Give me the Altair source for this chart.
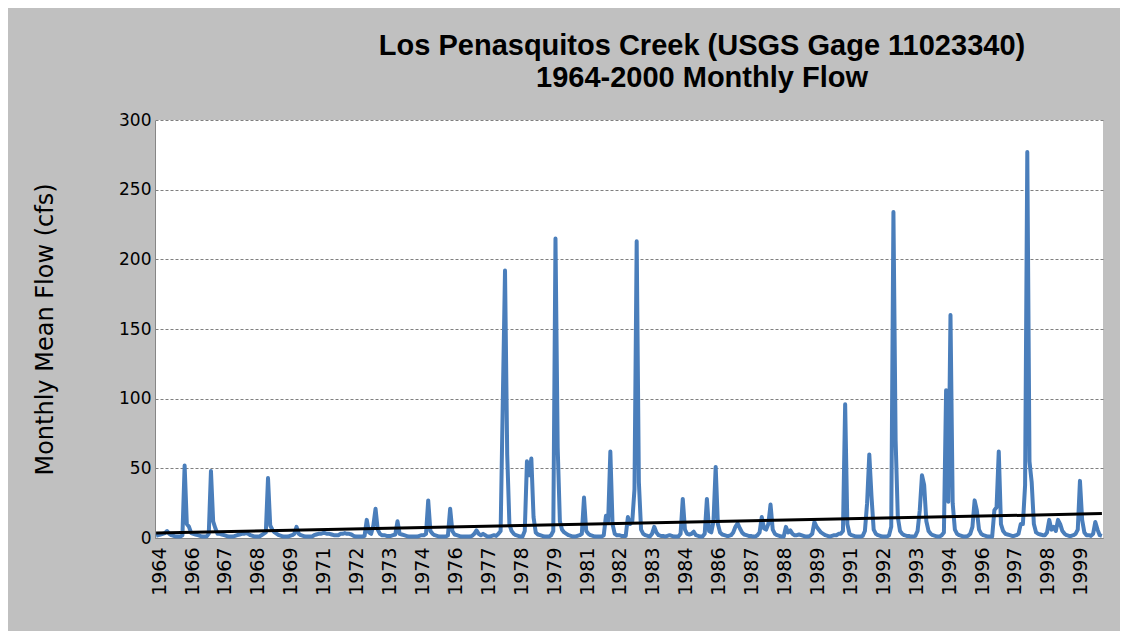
import json
import altair as alt
import pandas as pd

# Monthly mean flow (cfs), water years Oct-Sep
wy1965_1973 = [
    1.5, 2.0, 2.5, 3.0, 3.5, 5.0, 3.0, 2.0, 1.5, 1.0, 1.0, 1.0,
    2.0, 52.0, 10.0, 8.0, 3.5, 3.0, 2.5, 2.0, 1.5, 1.0, 1.0, 1.0,
    3.0, 48.0, 12.0, 7.0, 3.0, 3.0, 2.5, 2.0, 1.5, 1.0, 1.0, 1.0,
    1.5, 2.0, 2.5, 3.0, 3.0, 3.5, 3.0, 2.0, 1.5, 1.0, 1.0, 1.0,
    2.0, 3.0, 4.0, 43.0, 9.0, 6.0, 4.0, 3.0, 2.0, 1.5, 1.0, 1.0,
    1.0, 1.5, 2.0, 3.0, 8.0, 3.0, 2.0, 1.5, 1.0, 1.0, 1.0, 1.0,
    2.0, 2.5, 3.0, 3.0, 3.5, 3.5, 3.0, 3.0, 2.5, 2.0, 2.0, 2.0,
    3.0, 3.0, 3.5, 3.0, 3.0, 2.5, 1.5, 1.0, 1.0, 1.0, 1.0, 1.5,
    13.0, 4.0, 3.0, 9.0, 21.0, 6.0, 3.0, 2.0, 2.0, 1.5, 1.5, 1.5,
]
wy1974_1982 = [
    2.0, 2.5, 12.0, 3.0, 2.5, 2.0, 1.5, 1.0, 1.0, 1.0, 1.0, 1.0,
    1.5, 2.0, 2.0, 3.0, 27.0, 5.0, 3.0, 2.0, 1.5, 1.0, 1.0, 1.0,
    1.0, 2.0, 21.0, 5.0, 2.5, 2.0, 1.5, 1.0, 1.0, 1.0, 1.0, 1.0,
    1.5, 3.0, 5.5, 3.0, 2.0, 3.0, 2.0, 1.0, 1.0, 1.5, 2.0, 1.5,
    3.0, 5.0, 99.0, 192.0, 60.0, 10.0, 5.0, 3.0, 2.0, 1.5, 1.0, 1.0,
    5.0, 55.0, 45.0, 57.0, 15.0, 4.0, 2.5, 2.0, 1.5, 1.0, 1.0, 1.0,
    2.0, 5.0, 215.0, 65.0, 12.0, 6.0, 4.0, 3.0, 2.0, 1.5, 1.0, 1.0,
    1.5, 2.0, 3.0, 29.0, 5.0, 3.0, 2.0, 1.5, 1.0, 1.0, 1.0, 1.0,
    2.0, 16.0, 12.0, 62.0, 10.0, 3.0, 2.0, 2.0, 1.5, 1.5, 1.5, 15.0,
]
wy1983_1991 = [
    10.0, 12.0, 35.0, 213.0, 40.0, 6.0, 3.0, 2.0, 1.5, 1.0, 3.0, 8.0,
    4.0, 2.0, 1.5, 1.5, 1.0, 1.5, 2.0, 1.5, 1.0, 1.0, 1.0, 3.0,
    28.0, 6.0, 3.0, 2.5, 3.0, 4.5, 2.0, 1.5, 1.0, 1.0, 3.0, 28.0,
    5.0, 4.0, 12.0, 51.0, 10.0, 4.0, 2.5, 2.0, 1.5, 1.5, 2.0, 4.0,
    8.0, 10.5, 7.0, 4.0, 2.5, 2.0, 1.5, 1.5, 1.0, 1.0, 2.0, 4.0,
    15.0, 7.0, 6.0, 10.0, 24.0, 6.0, 3.0, 2.0, 1.5, 1.0, 1.0, 8.0,
    4.0, 5.5, 3.0, 2.0, 2.0, 2.5, 2.0, 1.5, 1.0, 1.0, 1.5, 3.0,
    11.5, 8.0, 6.0, 4.0, 3.0, 2.0, 1.5, 1.0, 1.5, 2.0, 2.0, 3.0,
    3.0, 5.0, 96.0, 10.0, 3.0, 2.0, 1.5, 1.0, 1.0, 1.0, 1.5, 5.0,
]
wy1992_2000 = [
    25.0, 60.0, 30.0, 6.0, 3.0, 2.0, 1.5, 1.0, 1.0, 1.0, 2.0, 8.0,
    234.0, 70.0, 15.0, 5.0, 3.0, 2.0, 1.5, 1.5, 1.0, 1.0, 1.5, 5.0,
    20.0, 45.0, 38.0, 12.0, 5.0, 3.0, 2.0, 1.5, 1.0, 1.0, 2.0, 4.0,
    106.0, 26.0, 160.0, 25.0, 6.0, 3.0, 2.0, 1.5, 1.0, 1.0, 1.5, 3.0,
    8.0, 27.0, 20.0, 6.0, 3.0, 2.0, 1.5, 1.0, 1.0, 1.0, 20.0, 22.0,
    62.0, 10.0, 5.0, 3.0, 2.5, 2.0, 1.5, 1.5, 2.0, 3.0, 10.0, 10.0,
    38.0, 277.0, 55.0, 40.0, 10.0, 4.0, 3.0, 2.5, 2.0, 2.0, 4.0, 13.0,
    6.0, 8.0, 5.0, 13.0, 10.0, 5.0, 3.0, 2.0, 1.5, 1.5, 2.0, 3.0,
    6.0, 41.0, 13.0, 4.0, 2.0, 2.0, 1.5, 3.0, 11.5, 6.0, 2.0, 1.5,
]

flow = wy1965_1973 + wy1974_1982 + wy1983_1991 + wy1992_2000
month_index = list(range(len(flow)))

# category labels shown every 15 months
year_labels = ["1964", "1966", "1967", "1968", "1969", "1971", "1972", "1973",
               "1974", "1976", "1977", "1978", "1979", "1981", "1982", "1983",
               "1984", "1986", "1987", "1988", "1989", "1991", "1992", "1993",
               "1994", "1996", "1997", "1998", "1999"]
label_positions = [15 * k for k in range(len(year_labels))]

# linear trendline end points
trend_index = [0, len(flow) - 1]
trend_flow = [3.6, 17.5]

y_ticks = [0, 50, 100, 150, 200, 250, 300]

df = pd.DataFrame({"m": month_index, "flow": flow})
tdf = pd.DataFrame({"m": trend_index, "flow": trend_flow})

label_expr = json.dumps(year_labels) + "[round(datum.value / 15)]"

x_enc = alt.X(
    "m:Q",
    scale=alt.Scale(domain=[-0.5, len(flow) - 0.5], nice=False, zero=False),
    axis=alt.Axis(
        values=label_positions, labelExpr=label_expr, labelAngle=270,
        labelFont="DejaVu Sans", labelFontSize=19, labelColor="black",
        labelPadding=9, labelOffset=3, ticks=False, grid=False,
        domainColor="#868686", labelOverlap=False, labelFlush=False,
        labelBound=False, title=None,
    ),
)
y_enc = alt.Y(
    "flow:Q",
    scale=alt.Scale(domain=[0, 300], nice=False),
    axis=alt.Axis(
        values=y_ticks, grid=True, gridDash=[3, 2], gridColor="#7f7f7f",
        gridWidth=1, ticks=False, domainColor="#868686",
        labelFont="DejaVu Sans", labelFontSize=17, labelColor="black",
        labelPadding=4,
        title="Monthly Mean Flow (cfs)", titleFont="DejaVu Sans",
        titleFontSize=24, titleFontWeight="normal", titleColor="black",
        titleAngle=270, titleX=-110, titleY=209, titleAlign="center",
        titleBaseline="middle",
    ),
)

flow_line = alt.Chart(df).mark_line(
    color="#4a7ebb", strokeWidth=4, strokeJoin="round"
).encode(x=x_enc, y=y_enc)

trend_line = alt.Chart(tdf).mark_line(
    color="black", strokeWidth=3
).encode(x=x_enc, y=y_enc)

chart = alt.layer(flow_line, trend_line).properties(
    width=948,
    height=418,
    autosize="none",
    padding={"left": 147, "top": 112, "right": 17, "bottom": 93},
    background="#c0c0c0",
    title=alt.TitleParams(
        ["Los Penasquitos Creek (USGS Gage 11023340)", "1964-2000 Monthly Flow"],
        font="Liberation Sans", fontSize=29, fontWeight="bold", color="black",
        anchor="middle", dx=73, offset=18, lineHeight=32,
    ),
).configure_view(fill="white", stroke=None).configure_axis(labelOverlap=False)

chart.save("out.html", embed_options={"renderer": "svg", "actions": False})
